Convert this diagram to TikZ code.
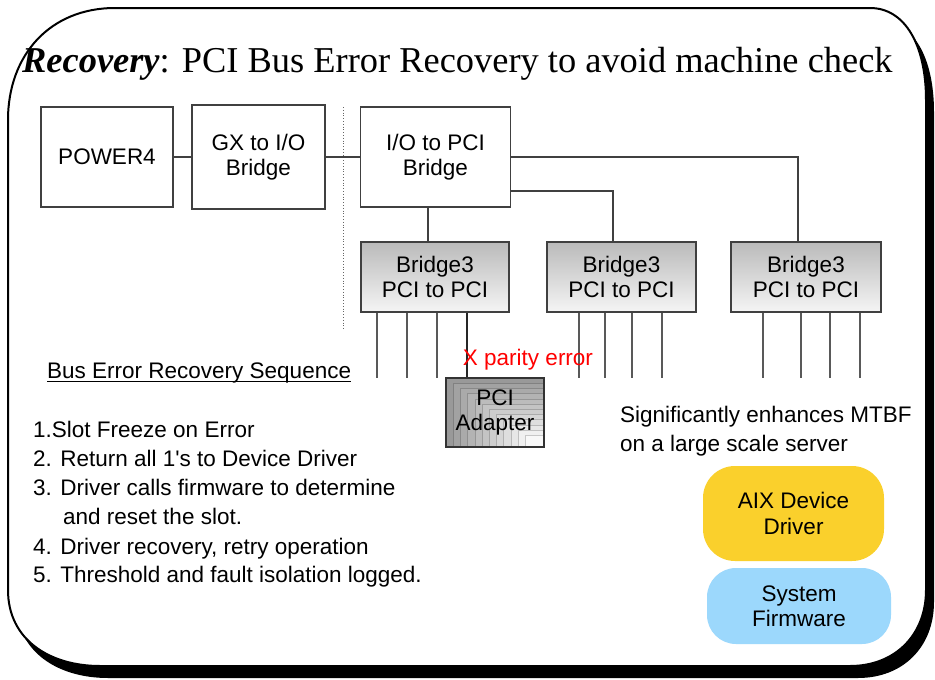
\documentclass[tikz,border=0pt]{standalone}
\usepackage{fontspec}
\setmainfont{Liberation Sans}[Ligatures=TeXOff]
\newfontfamily\timesfont{Liberation Serif}
\definecolor{aixyellow}{HTML}{FAD02C}
\definecolor{fwblue}{HTML}{9CD8FC}
\begin{document}
\begin{tikzpicture}[x=1pt,y=-1pt,
  txt/.style={inner sep=0pt, font=\fontsize{22.5}{25.5}\selectfont},
  box/.style={txt, draw=black!75, line width=1.1pt, fill=white, align=center},
  bridgebox/.style={box, top color=black!27, bottom color=black!4},
  wire/.style={draw=black!75, line width=1.1pt},
  stub/.style={draw=black!65, line width=1.4pt},
  frameshape/.style={line width=2pt, line join=round}]
\useasboundingbox (0,0) rectangle (935,680);
% frame with shadow
\def\framepath{(8,120) .. controls (8,55) and (50,8) .. (115,8) -- (870,8) .. controls (905,8) and (926,45) .. (926,100) -- (926,590) .. controls (926,635) and (895,666) .. (850,666) -- (100,666) .. controls (50,666) and (8,640) .. (8,590) -- cycle}
\fill[black, shift={(8pt,-12pt)}] \framepath;
\path[frameshape, draw=black, fill=white] \framepath;
% title
\node[inner sep=0pt, anchor=base west, font=\timesfont\fontsize{36.4}{40}\selectfont] (title) at (22,72) {\textbf{\textit{Recovery}}: PCI Bus Error Recovery to avoid machine check};
% boxes
\node[box, minimum width=132pt, minimum height=100pt] (p4) at (107,157) {POWER4};
\node[box, minimum width=133pt, minimum height=104pt] (gx) at (258.5,157) {GX to I/O\\Bridge};
\node[box, minimum width=150pt, minimum height=100pt] (io) at (435.5,157) {I/O to PCI\\Bridge};
\node[bridgebox, minimum width=148pt, minimum height=70pt] (b1) at (435,277) {Bridge3\\PCI to PCI};
\node[bridgebox, minimum width=149pt, minimum height=70pt] (b2) at (621.5,277) {Bridge3\\PCI to PCI};
\node[bridgebox, minimum width=150pt, minimum height=70pt] (b3) at (806,277) {Bridge3\\PCI to PCI};
% dotted separator
\draw[black!60, line width=0.8pt, dotted] (343,107) -- (343,330);
% connectors
\draw[wire] (p4.east) -- (gx.west);
\draw[wire] (gx.east) -- (io.west);
\draw[wire] (io.east) -| ([xshift=-8pt]b3.north);
\draw[wire] ([yshift=-34pt]io.east) -| ([xshift=-8.5pt]b2.north);
\draw[wire] ([xshift=-7.5pt]io.south) -- ([xshift=-7pt]b1.north);
% PCI adapter with stepped shading
\foreach \i in {0,...,11}{
  \pgfmathsetmacro{\shade}{40-3.4*\i}
  \filldraw[fill=black!\shade, draw=black!\shade!white!80!black, line width=0.4pt]
    ({446+7.2*\i},{378+5.2*\i}) rectangle (544,447);
}
\node[box, fill=none, draw=black!80, minimum width=98pt, minimum height=69pt] (ad) at (495,412.5) {PCI\\Adapter};
% stubs below bridges
\foreach \dx in {-58,-28,2}{
  \draw[stub] ([xshift=\dx pt]b1.south) -- ++(0,65);
}
\draw[stub, draw=black!85] ([xshift=32pt]b1.south) -- ([xshift=32pt]b1.south |- ad.north);
\foreach \dx in {-42.5,-16.5,10.5,40.5}{
  \draw[stub] ([xshift=\dx pt]b2.south) -- ++(0,65);
}
\foreach \dx in {-43,-5,24,54}{
  \draw[stub] ([xshift=\dx pt]b3.south) -- ++(0,65);
}
% error label
\node[txt, anchor=base, text=red] (err) at (528,365) {X parity error};
% sequence text
\node[txt, anchor=base west] (seqh) at (47,378) {Bus Error Recovery Sequence};
\draw[black, line width=1.1pt] ([yshift=-3.5pt]seqh.base west) -- ([yshift=-3.5pt]seqh.base east);
\node[txt, anchor=base west] (s1) at (33,437) {1.Slot Freeze on Error};
\node[txt, anchor=base west] (s2) at (33,466) {2. Return all 1's to Device Driver};
\node[txt, anchor=base west] (s3) at (33,495) {3. Driver calls firmware to determine};
\node[txt, anchor=base west] (s3b) at (63,524) {and reset the slot.};
\node[txt, anchor=base west] (s4) at (33,554) {4. Driver recovery, retry operation};
\node[txt, anchor=base west] (s5) at (33,582) {5. Threshold and fault isolation logged.};
% MTBF note
\node[txt, anchor=base west] (m1) at (620,422) {Significantly enhances MTBF};
\node[txt, anchor=base west] (m2) at (620,451) {on a large scale server};
% software layers
\node[txt, align=center, fill=aixyellow, rounded corners=32pt, minimum width=181pt, minimum height=95pt] (aix) at (793.5,513.5) {AIX Device\\Driver};
\node[txt, align=center, fill=fwblue, rounded corners=29pt, minimum width=184pt, minimum height=76pt] (fw) at (799,606) {System\\Firmware};
\end{tikzpicture}
\end{document}
